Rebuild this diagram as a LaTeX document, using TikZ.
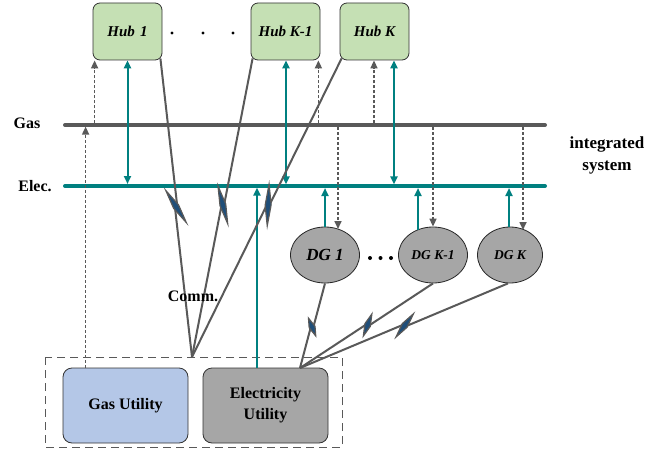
\documentclass[tikz,border=0pt]{standalone}
\usepackage{fontspec}
\setmainfont{Liberation Serif}
\usetikzlibrary{arrows.meta,shapes.geometric,calc}
\definecolor{busgray}{HTML}{595959}
\definecolor{tealc}{HTML}{008080}
\definecolor{hubgreen}{HTML}{C5E0B4}
\definecolor{dggray}{HTML}{A6A6A6}
\definecolor{gasblue}{HTML}{B4C7E7}
\definecolor{boltblue}{HTML}{1F4E79}
% #1 start, #2 end, #3 distance of upper bolt tip, #4 bolt length, #5 bolt tip offset, #6 id
\newcommand{\commlink}[6]{%
  \pgfmathsetmacro\clL{#3}%
  \pgfmathsetmacro\clX{#3+0.5*#4-1.2}%
  \pgfmathsetmacro\clY{#3+0.5*#4+1.2}%
  \pgfmathsetmacro\clPa{#3+0.5*#4-1.5}%
  \pgfmathsetmacro\clPb{#3+0.5*#4+1.5}%
  \pgfmathsetmacro\clR{#3+#4}%
  \path let \p1=(#1), \p2=(#2), \n1={atan2(\y2-\y1,\x2-\x1)} in
    coordinate (#6x) at ($(\p1)+(\n1:\clX pt)+(\n1+90:1.2pt)$)
    coordinate (#6y) at ($(\p1)+(\n1:\clY pt)+(\n1-90:1.2pt)$)
    coordinate (#6l) at ($(\p1)+(\n1:\clL pt)+(\n1-90:#5pt)$)
    coordinate (#6p) at ($(\p1)+(\n1:\clPa pt)+(\n1+90:2.6pt)$)
    coordinate (#6r) at ($(\p1)+(\n1:\clR pt)+(\n1+90:#5pt)$)
    coordinate (#6q) at ($(\p1)+(\n1:\clPb pt)+(\n1-90:2.6pt)$);
  \draw[commline] (#1) -- (#6x);
  \draw[commline] (#6y) -- (#2);
  \filldraw[boltshape] (#6l) -- (#6p) -- (#6r) -- (#6q) -- cycle;
}
\begin{document}
\begin{tikzpicture}[x=1pt,y=-1pt,
  hubbox/.style={draw=black!80,fill=hubgreen,rounded corners=7pt,minimum width=69pt,minimum height=57pt,inner sep=0pt,font=\fontsize{15}{18}\selectfont\bfseries\itshape,line width=0.8pt},
  dgnode/.style={ellipse,draw=black!85,fill=dggray,minimum width=69pt,minimum height=56pt,inner sep=0pt,line width=0.8pt,font=\fontsize{13.5}{16}\selectfont\bfseries\itshape},
  util/.style={draw=black!80,rounded corners=9pt,minimum width=125pt,minimum height=75pt,inner sep=0pt,align=center,font=\fontsize{16}{21}\selectfont\bfseries,line width=0.8pt},
  bus/.style={line width=4pt,line cap=round},
  tarr/.style={draw=tealc,line width=2pt,-{Triangle[length=8pt,width=7pt]}},
  tdarr/.style={draw=tealc,line width=2pt,{Triangle[length=8pt,width=7pt]}-{Triangle[length=8pt,width=7pt]}},
  garr/.style={draw=busgray,line width=1.6pt,dash pattern=on 3pt off 2pt,-{Triangle[length=8pt,width=7pt]}},
  commline/.style={draw=busgray,line width=2pt},
  boltshape/.style={draw=busgray,fill=boltblue,line width=1.2pt,line join=miter},
  lbl/.style={font=\fontsize{16}{19}\selectfont\bfseries,inner sep=0pt},
]
\useasboundingbox (0,0) rectangle (669,452);

% hubs
\node[hubbox] (hub1) at (127.5,31.5) {Hub\hspace{0.35em}1};
\node[hubbox] (hubk1) at (285.5,31.5) {Hub K-1};
\node[hubbox] (hubk) at (374.5,31.5) {Hub K};
\foreach \x in {172,203,233} \fill (\x,33) circle (1.6);

% buses
\coordinate (gasL) at (65,125);
\coordinate (gasR) at (545,125);
\coordinate (elL) at (65,186);
\coordinate (elR) at (545,186);
\draw[bus,draw=busgray] (gasL) -- (gasR);
\draw[bus,draw=tealc] (elL) -- (elR);
\node[lbl] (gaslbl) at (27,123) {Gas};
\node[lbl] (ellbl) at (35,186) {Elec.};
\node[lbl,align=center,font=\fontsize{17}{22}\selectfont\bfseries] (integ) at (607,155) {integrated\\system};

% DGs
\node[dgnode,font=\fontsize{17}{20}\selectfont\bfseries\itshape] (dg1) at (325,255) {DG 1};
\node[dgnode] (dgk1) at (433,255) {DG K-1};
\node[dgnode,minimum width=65pt] (dgk) at (510,255) {DG K};
\foreach \x in {370,380.5,391} \fill (\x,258) circle (2);

% utilities
\draw[busgray,line width=1pt,dash pattern=on 8pt off 5pt] (45,357) rectangle (342,447);
\node[util,fill=gasblue] (gasu) at (125.5,405.5) {Gas Utility};
\node[util,fill=dggray] (elu) at (265.5,405.5) {Electricity\\Utility};

% hub links
\draw[tdarr] (hub1.south) -- (hub1.south |- 0,184);
\draw[garr] ($(hub1.south west)+(2,63)$) -- ($(hub1.south west)+(2,0)$);
\draw[tdarr] ($(hubk1.south)+(0.5,0)$) -- ($(hubk1.south)+(0.5,124)$);
\draw[garr] ($(hubk1.south east)+(-2,63)$) -- ($(hubk1.south east)+(-2,0)$);
\draw[garr] ($(hubk.south)+(-0.5,63)$) -- ($(hubk.south)+(-0.5,0)$);
\draw[tdarr] ($(hubk.south)+(19.5,0)$) -- ($(hubk.south)+(19.5,124)$);

% gas utility to gas bus
\draw[garr] ($(gasu.north west)+(23,0)$) -- ($(gasu.north west)+(23,-241)$);
% elec utility to elec bus
\draw[tarr] ($(elu.north)+(-8.5,0)$) -- ($(elu.north)+(-8.5,-180)$);

% gas bus to DGs
\draw[garr] (338,127) -- (338,229);
\draw[garr] (dgk1.north |- 0,127) -- (dgk1.north);
\draw[garr] (523,127) -- (523,230);
% DGs to elec bus
\draw[tarr] (dg1.north) -- (dg1.north |- 0,188);
\draw[tarr] (418,230) -- (418,188);
\draw[tarr] (509,227) -- (509,188);

% communication
\coordinate (commC) at (192,357);
\coordinate (commE) at (300,368);
\coordinate (h1c) at ($(hub1.south east)+(-2,-2)$);
\coordinate (hk1c) at ($(hubk1.south west)+(2,-2)$);
\coordinate (hkc) at ($(hubk.south west)+(2,-2)$);
\coordinate (d1c) at (dg1.south);
\coordinate (dk1c) at (dgk1.south);
\coordinate (dkc) at ($(dgk.south)+(-2,0)$);
\commlink{h1c}{commC}{132}{34}{8.5}{ba}
\commlink{hk1c}{commC}{132}{35}{8.5}{bb}
\commlink{hkc}{commC}{145}{38}{8.5}{bc}
\commlink{d1c}{commE}{38}{15}{6}{bd}
\commlink{dk1c}{commE}{68}{19}{7}{be}
\commlink{dkc}{commE}{99}{25}{7.5}{bf}
\node[lbl] (commlbl) at (193,296) {Comm.};
\end{tikzpicture}
\end{document}
